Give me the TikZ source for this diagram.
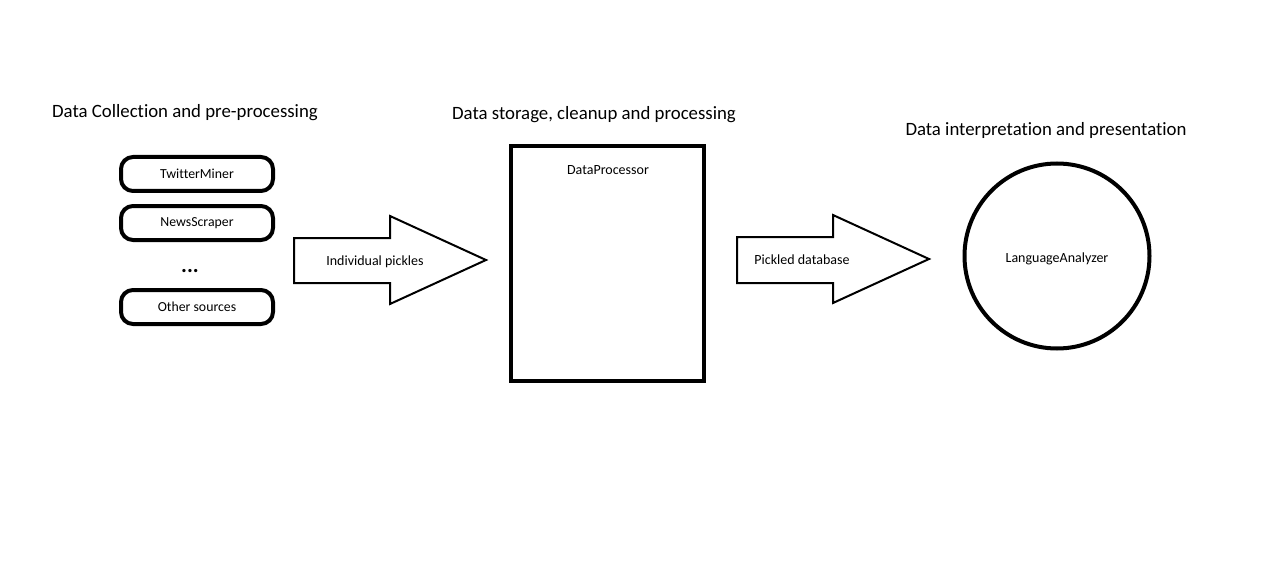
\documentclass[tikz,border=0pt]{standalone}
\usepackage{fontspec}
\setmainfont[Ligatures={NoCommon}]{Carlito}
\begin{document}
\begin{tikzpicture}[x=1pt,y=-1pt,
  heading/.style={font=\fontsize{18.8}{20}\selectfont, inner sep=0pt},
  small/.style={font=\fontsize{14}{16}\selectfont, inner sep=0pt},
  srcbox/.style={draw, line width=4pt, rounded corners=12pt, minimum width=152pt, minimum height=34pt, inner sep=0pt, font=\fontsize{13.8}{16}\selectfont},
  bigarrow/.style={draw, line width=2pt, line join=miter},
  thickbox/.style={draw, line width=4pt, inner sep=0pt}]
\useasboundingbox (0,0) rectangle (1267,567);
\fill[white] (0,0) rectangle (1267,567);

% headings
\node[heading] (h1) at (185,113) {Data Collection and pre-processing};
\node[heading] (h2) at (594,115) {Data storage, cleanup and processing};
\node[heading] (h3) at (1046,130) {Data interpretation and presentation};

% sources
\node[srcbox] (tw) at (197,174) {\raisebox{-1pt}{TwitterMiner}};
\node[srcbox] (ns) at (197,223) {\raisebox{-1pt}{NewsScraper}};
\node[font=\fontsize{22}{24}\selectfont, inner sep=0pt] (dots) at (190,271) {\textbf{...}};
\node[srcbox] (os) at (197,307) {\raisebox{-1pt}{Other sources}};

% arrow 1
\draw[bigarrow] (294,238) -- (390,238) -- (390,216) -- (486,260) -- (390,304) -- (390,283) -- (294,283) -- cycle;
\node[small] (ip) at (375,262) {Individual pickles};

% DataProcessor
\node[thickbox, minimum width=193pt, minimum height=235pt] (dp) at (607.5,263.5) {};
\node[small] (dpl) at (608,170) {DataProcessor};

% arrow 2
\draw[bigarrow] (737,237) -- (833,237) -- (833,215) -- (929,259) -- (833,303) -- (833,283) -- (737,283) -- cycle;
\node[small] (pd) at (802,260) {Pickled database};

% LanguageAnalyzer
\node[draw, circle, line width=4pt, minimum size=185pt, inner sep=0pt] (la) at (1057,256) {};
\node[small] (lal) at (1057,259) {LanguageAnalyzer};
\end{tikzpicture}
\end{document}
